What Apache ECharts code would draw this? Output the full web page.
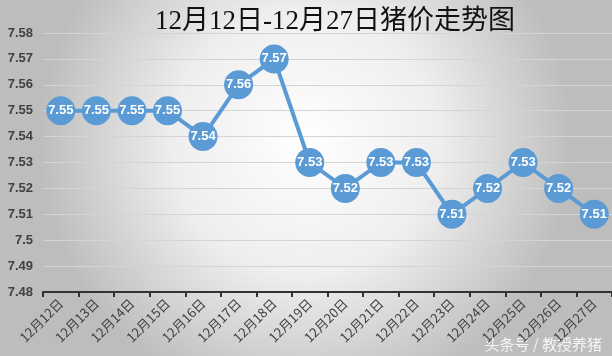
<!DOCTYPE html>
<html><head><meta charset="utf-8">
<script src="https://cdn.jsdelivr.net/npm/echarts@6/dist/echarts.min.js"></script>
<style>html,body{margin:0;padding:0;}#c{width:612px;height:356px;}</style>
</head><body><div id="c"></div>
<script>
const categories = ['12月12日','12月13日','12月14日','12月15日','12月16日','12月17日','12月18日','12月19日','12月20日','12月21日','12月22日','12月23日','12月24日','12月25日','12月26日','12月27日'];
const prices = [7.55,7.55,7.55,7.55,7.54,7.56,7.57,7.53,7.52,7.53,7.53,7.51,7.52,7.53,7.52,7.51];
const yTicks = [7.48,7.49,7.5,7.51,7.52,7.53,7.54,7.55,7.56,7.57,7.58];
const titleText = '12月12日-12月27日猪价走势图';
const watermark = '头条号 / 教授养猪';

const chart = echarts.init(document.getElementById('c'));
chart.setOption({
  animation: false,
  backgroundColor: {
    type: 'radial', x: 0.5, y: 0.4, r: 0.75,
    colorStops: [{offset: 0, color: '#ffffff'}, {offset: 0.5, color: '#eeeeee'}, {offset: 1, color: '#bdbdbd'}]
  },
  title: {
    text: titleText, left: 330, top: 3, textAlign: 'center',
    textStyle: {fontFamily: '"Liberation Serif", "Noto Sans CJK SC", serif', fontSize: 27, fontWeight: 'normal', color: '#111'}
  },
  graphic: [{
    type: 'text', right: 10, bottom: 4,
    style: {text: watermark, fill: 'rgba(255,255,255,0.85)', font: '15px "Noto Sans CJK SC"'}
  }],
  grid: {left: 43, right: -4, top: 33, bottom: 64},
  xAxis: {
    type: 'category', data: categories, boundaryGap: true,
    axisLine: {lineStyle: {color: '#333', width: 2}},
    axisTick: {show: true, alignWithLabel: false, length: 5, lineStyle: {color: '#333', width: 2}},
    axisLabel: {rotate: 45, color: '#404040', fontSize: 13, fontFamily: '"Noto Sans CJK SC", sans-serif', margin: 9, interval: 0}
  },
  yAxis: {
    type: 'value', min: 7.48, max: 7.58, interval: 0.01,
    axisLine: {show: false}, axisTick: {show: false},
    splitLine: {lineStyle: {color: '#d4d4d4', width: 1}},
    axisLabel: {
      color: '#404040', fontSize: 13, fontWeight: 'bold', fontFamily: '"Liberation Sans", sans-serif', margin: 10,
      formatter: v => {
        const r = Math.round(v * 100) / 100;
        const t = yTicks.find(x => Math.abs(x - r) < 1e-6);
        return t !== undefined ? String(t) : '';
      }
    }
  },
  series: [{
    type: 'line', data: prices,
    symbol: 'circle', symbolSize: 29,
    lineStyle: {color: '#5B9BD5', width: 4},
    itemStyle: {color: '#5B9BD5'},
    label: {
      show: true, position: 'inside', color: '#fff', fontSize: 13, fontWeight: 'bold',
      fontFamily: '"Liberation Sans", sans-serif',
      formatter: p => p.value.toFixed(2)
    }
  }]
});
</script></body></html>
